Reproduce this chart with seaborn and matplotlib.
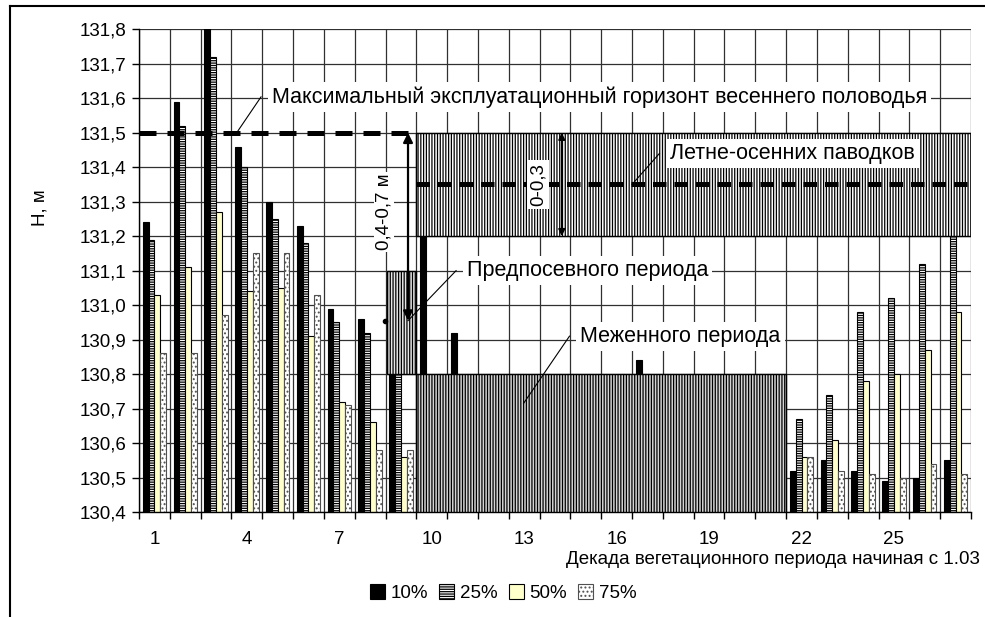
import numpy as np
import pandas as pd
import matplotlib.pyplot as plt
import seaborn as sns
from matplotlib.patches import Rectangle, Patch
from matplotlib.lines import Line2D
from matplotlib.ticker import FixedLocator

decades = [str(i) for i in range(1, 28)]
series = ["10%", "25%", "50%", "75%"]

# water level by decade, one list per probability (bars under the grey block are guesses)
h10 = [131.24, 131.59, 131.85, 131.46, 131.30, 131.23, 130.99, 130.96, 130.95, 131.30,
       130.92, 130.76, 130.74, 130.72, 130.70, 130.72, 130.84, 130.66, 130.62, 130.58,
       130.55, 130.52, 130.55, 130.52, 130.49, 130.50, 130.55]
h25 = [131.19, 131.52, 131.72, 131.40, 131.25, 131.18, 130.95, 130.92, 130.86, 130.78,
       130.72, 130.68, 130.66, 130.65, 130.64, 130.63, 130.70, 130.62, 130.60, 130.60,
       130.63, 130.67, 130.74, 130.98, 131.02, 131.12, 131.30]
h50 = [131.03, 131.11, 131.27, 131.04, 131.05, 130.91, 130.72, 130.66, 130.56, 130.56,
       130.55, 130.54, 130.53, 130.53, 130.52, 130.52, 130.55, 130.52, 130.52, 130.53,
       130.54, 130.56, 130.61, 130.78, 130.80, 130.87, 130.98]
h75 = [130.86, 130.86, 130.97, 131.15, 131.15, 131.03, 130.71, 130.58, 130.58, 130.53,
       130.52, 130.51, 130.51, 130.50, 130.50, 130.50, 130.51, 130.50, 130.50, 130.51,
       130.52, 130.56, 130.52, 130.51, 130.50, 130.54, 130.51]

yticks = np.round(np.arange(130.4, 131.81, 0.1), 1)

df = pd.DataFrame({
    "decade": decades * 4,
    "series": np.repeat(series, len(decades)),
    "H": h10 + h25 + h50 + h75,
})

plt.rcParams["font.family"] = ["Liberation Sans", "DejaVu Sans"]
plt.rcParams["hatch.linewidth"] = 0.9

fig = plt.figure(figsize=(9.85, 6.17), dpi=100)
ax = fig.add_axes([139 / 985, 1 - 512 / 617, 832 / 985, 482.7 / 617])

sns.barplot(data=df, x="decade", y="H", hue="series", order=decades, hue_order=series,
            width=0.76, errorbar=None, legend=False, ax=ax,
            palette=["black", "white", "#ffffcc", "white"],
            edgecolor="black", linewidth=0.8, saturation=1)

styles = [("black", "", "black"), ("white", "-------", "black"),
          ("#ffffcc", "", "black"), ("white", "....", "#505050")]
for cont, (fc, hatch, ec) in zip(ax.containers, styles):
    for bar in cont:
        bar.set_facecolor(fc)
        bar.set_hatch(hatch)
        bar.set_edgecolor(ec)

ax.set_xlim(-0.5, 26.5)
ax.set_ylim(130.4, 131.8)
ax.set_yticks(yticks)
ax.set_yticklabels([f"{v:.1f}".replace(".", ",") for v in yticks], fontsize=13.5)
ax.set_xticks(range(0, 27, 3))
ax.set_xticklabels(decades[::3], fontsize=13.5)
ax.xaxis.set_minor_locator(FixedLocator(np.arange(-0.5, 27, 1)))
ax.tick_params(axis="x", which="major", length=0, pad=14)
ax.tick_params(axis="x", which="minor", length=5, width=1, color="black")
ax.tick_params(axis="y", length=5, width=1, color="black", pad=4)
ax.grid(which="minor", axis="x", color="#303030", lw=0.9)
ax.grid(which="major", axis="y", color="#303030", lw=0.9)
ax.set_axisbelow(True)
ax.set_xlabel("")
ax.set_ylabel("")
for s in ["top", "right"]:
    ax.spines[s].set_visible(False)
for s in ["left", "bottom"]:
    ax.spines[s].set_color("black")
    ax.spines[s].set_linewidth(1)

# period blocks
ax.add_patch(Rectangle((8.5, 131.2), 18, 0.3, facecolor="white", edgecolor="black",
                       hatch="||||||", lw=1, zorder=3))
ax.add_patch(Rectangle((7.55, 130.8), 0.95, 0.3, facecolor="#e6e6e6", edgecolor="black",
                       hatch="||||||", lw=1, zorder=3))
ax.add_patch(Rectangle((8.5, 130.4), 12, 0.4, facecolor="#d4d4d4", edgecolor="black",
                       hatch="||||||", lw=1, zorder=3))

# horizons
ax.plot([-0.5, 8.5], [131.5, 131.5], color="black", lw=3.6, dashes=(3.4, 2.2), zorder=4,
        dash_capstyle="butt")
ax.plot([8.5, 26.5], [131.35, 131.35], color="black", lw=3.6, dashes=(2.7, 1.6), zorder=4,
        dash_capstyle="butt")

# dimension arrows
ax.annotate("", xy=(8.23, 131.5), xytext=(8.23, 130.955),
            arrowprops=dict(arrowstyle="<|-|>", color="black", lw=1.6,
                            mutation_scale=14, shrinkA=0, shrinkB=0), zorder=5)
ax.plot([7.49], [130.955], "o", color="black", ms=3, zorder=5)
ax.text(7.45, 131.27, "0,4-0,7 м", rotation=90, ha="center", va="center", fontsize=13.5,
        bbox=dict(facecolor="white", edgecolor="none", pad=1), zorder=6)
ax.annotate("", xy=(13.22, 131.5), xytext=(13.22, 131.2),
            arrowprops=dict(arrowstyle="<|-|>", color="black", lw=1.2,
                            mutation_scale=10, shrinkA=0, shrinkB=0), zorder=5)
ax.text(12.45, 131.35, "0-0,3", rotation=90, ha="center", va="center", fontsize=13.5,
        bbox=dict(facecolor="white", edgecolor="none", pad=2), zorder=6)

# labels with leader lines
labels = [
    ("Максимальный эксплуатационный горизонт весеннего половодья", 3.81, 131.604, (2.67, 131.5)),
    ("Летне-осенних паводков", 16.74, 131.44, (15.5, 131.35)),
    ("Предпосевного периода", 10.14, 131.10, (8.23, 130.955)),
    ("Меженного периода", 13.82, 130.91, (11.98, 130.715)),
]
for txt, x, y, (lx, ly) in labels:
    ax.plot([lx, x - 0.35], [ly, y], color="black", lw=0.8, zorder=6)
    ax.text(x, y, txt, ha="left", va="center", fontsize=15.5,
            bbox=dict(facecolor="white", edgecolor="none", pad=3), zorder=7)

fig.text(40 / 985, 1 - 208 / 617, "Н, м", rotation=90, ha="center", va="center", fontsize=13.5)
fig.text(980 / 985, 1 - 560 / 617, "Декада вегетационного периода начиная с 1.03",
         ha="right", va="center", fontsize=13.5)

handles = [Patch(facecolor=fc, edgecolor=ec, hatch=h, lw=0.8) for fc, h, ec in styles]
fig.legend(handles, series, loc="center", bbox_to_anchor=(503 / 985, 1 - 593 / 617), ncol=4,
           frameon=False, fontsize=13.5, handlelength=0.8, handleheight=0.8,
           handletextpad=0.3, columnspacing=0.6)

fig.add_artist(Line2D([10 / 985, 10 / 985], [0, 1 - 6 / 617], transform=fig.transFigure,
                      color="black", lw=1.5))
fig.add_artist(Line2D([10 / 985, 1], [1 - 6 / 617, 1 - 6 / 617], transform=fig.transFigure,
                      color="black", lw=1.5))

fig.savefig("out.png", dpi=100)
